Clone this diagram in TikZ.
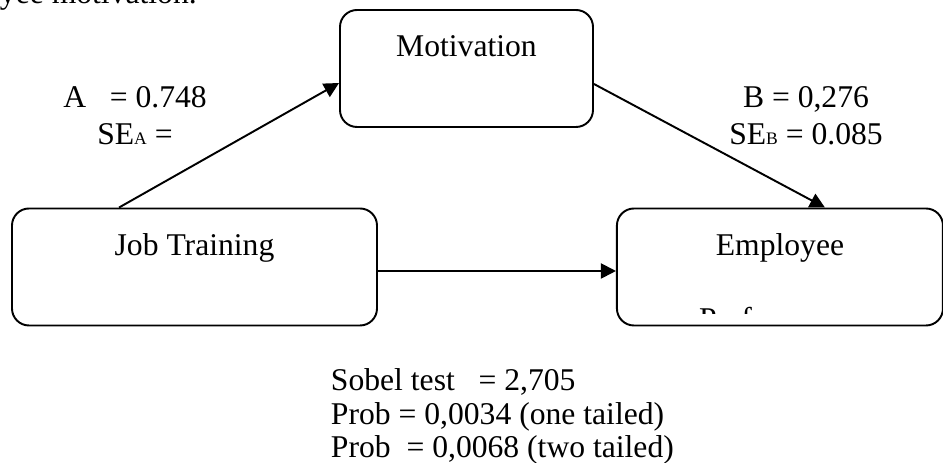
\documentclass[tikz,border=0pt]{standalone}
\usepackage{fontspec}
\setmainfont{Liberation Serif}
\usepackage{tikz}
\usetikzlibrary{arrows.meta,positioning}

\begin{document}
\begin{tikzpicture}[
	> = {Triangle[length=3mm, width=3mm]}, % arrow head style
	x = 0.2mm, y = -0.2mm, % one unit per pixel, y downwards
	line width = 1.1pt, % line style
	font = \fontsize{18}{20.7}\selectfont,
	B/.style={draw=black, rounded corners=3.4mm, inner sep=0pt, text height=9.4mm, text depth=14mm},  %text near the top
	L/.style={inner sep=0pt, align=center},
	]
	\useasboundingbox (0,0) rectangle (943,463);

	% Boxes and their relative positions
	\node[B, minimum width=50.6mm] (M) at (466.5,68.5) {Motivation};
	\node[B, minimum width=73mm] (T) at (194.5,267) {Job Training};
	\node[B, minimum width=65.2mm] (E) [right = 47.6mm of T] {Employee};
	\begin{scope}
		\clip ([yshift=2.5mm]E.south west) rectangle (E.north east);
		\node[L, anchor=base] (Perf) at ([yshift=-24.4mm]E.north) {Performance};
	\end{scope}

	% Labels
	\node[L, anchor=base west] (Top) at (-1,4) {yee motivation.};
	\node[L, anchor=north] (LA) at (135,86) {A~~~= 0.748\\SE{\fontsize{10}{10}\selectfont A} =};
	\node[L, anchor=north] (LB) at (806,86) {B = 0,276\\SE{\fontsize{10}{10}\selectfont B} = 0.085};
	\node[L, align=left, anchor=north west, font=\fontsize{18}{19}\selectfont] (S) at (330,368)
		{Sobel test~~~= 2,705\\Prob = 0,0034 (one tailed)\\Prob~~= 0,0068 (two tailed)};

	% Paths connecting nodes
	\path[->] ([xshift=21.6mm]T.north west) edge ([yshift=-2.9mm]M.west);
	\path[->] ([yshift=-3.1mm]M.east) edge ([xshift=9mm]E.north);
	\path[->] ([yshift=-0.8mm]T.east) edge ([yshift=-0.8mm]E.west);

\end{tikzpicture}
\end{document}
